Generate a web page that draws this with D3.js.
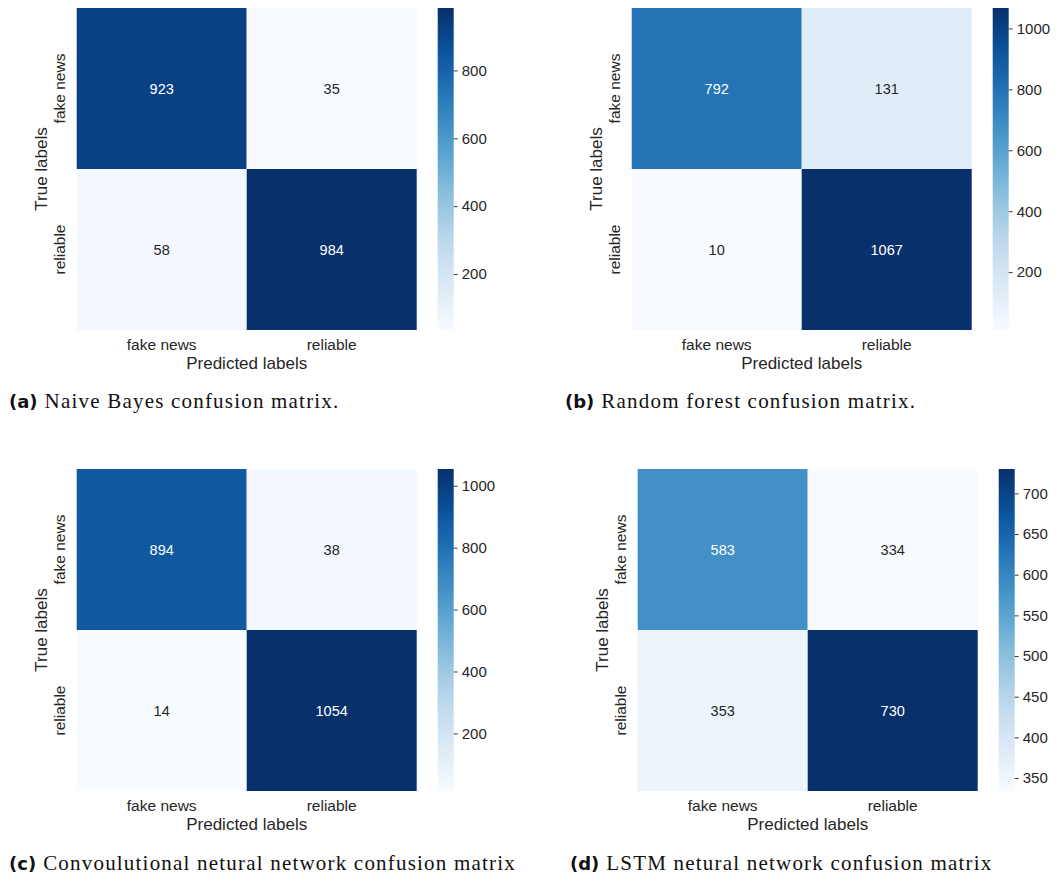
<!DOCTYPE html>
<html>
<head>
<meta charset="utf-8">
<script src="https://cdn.jsdelivr.net/npm/d3@7"></script>
<style>
  body { margin: 0; background: #fff; }
  svg { display: block; }
  .tick text { fill: #262626; }
</style>
</head>
<body>
<svg id="chart" width="1061" height="877"></svg>
<script>
const classes = ["fake news", "reliable"];

const nbValues = [[923, 35], [58, 984]];
const rfValues = [[792, 131], [10, 1067]];
const cnnValues = [[894, 38], [14, 1054]];
const lstmValues = [[583, 334], [353, 730]];

const nbTicks = [200, 400, 600, 800];
const rfTicks = [200, 400, 600, 800, 1000];
const cnnTicks = [200, 400, 600, 800, 1000];
const lstmTicks = [350, 400, 450, 500, 550, 600, 650, 700];

const captionTags = ["(a)", "(b)", "(c)", "(d)"];
const captionTexts = [
    "Naive Bayes confusion matrix.",
    "Random forest confusion matrix.",
    "Convoulutional netural network confusion matrix",
    "LSTM netural network confusion matrix"
];

const svg = d3.select("#chart");
const sans = "'Liberation Sans', Arial, sans-serif";
const textColor = "#262626";

const cellW = 170, cellH = 161;
const barGap = 21, barW = 16;

// layout of each panel (heatmap origin and caption origin)
const panels = [
    {values: nbValues, ticks: nbTicks, x: 76.7, y: 8, capX: 9, capY: 408},
    {values: rfValues, ticks: rfTicks, x: 631.7, y: 8, capX: 565, capY: 408},
    {values: cnnValues, ticks: cnnTicks, x: 76.7, y: 469, capX: 9, capY: 870},
    {values: lstmValues, ticks: lstmTicks, x: 637.7, y: 469, capX: 570, capY: 870}
];

panels.forEach((p, i) => {
    const g = svg.append("g").attr("transform", `translate(${p.x},${p.y})`);
    const flat = p.values.flat();
    const vmin = d3.min(flat), vmax = d3.max(flat);
    const color = d3.scaleSequential(d3.interpolateBlues).domain([vmin, vmax]);

    const x = d3.scaleBand().domain(classes).range([0, cellW * 2]);
    const y = d3.scaleBand().domain(classes).range([0, cellH * 2]);

    const cells = [];
    p.values.forEach((row, r) => row.forEach((v, c) => cells.push({r: classes[r], c: classes[c], v})));

    g.selectAll("rect.cell")
        .data(cells)
        .enter().append("rect")
        .attr("class", "cell")
        .attr("x", d => x(d.c))
        .attr("y", d => y(d.r))
        .attr("width", x.bandwidth())
        .attr("height", y.bandwidth())
        .attr("fill", d => color(d.v));

    g.selectAll("text.annot")
        .data(cells)
        .enter().append("text")
        .attr("class", "annot")
        .attr("x", d => x(d.c) + x.bandwidth() / 2)
        .attr("y", d => y(d.r) + y.bandwidth() / 2)
        .attr("dy", "0.35em")
        .attr("text-anchor", "middle")
        .attr("font-family", sans)
        .attr("font-size", 14.5)
        .attr("fill", d => (d.v - vmin) / (vmax - vmin) > 0.5 ? "#ffffff" : textColor)
        .text(d => d.v);

    // x tick labels
    g.selectAll("text.xlab")
        .data(classes)
        .enter().append("text")
        .attr("class", "xlab")
        .attr("x", d => x(d) + x.bandwidth() / 2)
        .attr("y", cellH * 2 + 20)
        .attr("text-anchor", "middle")
        .attr("font-family", sans)
        .attr("font-size", 15.5)
        .attr("fill", textColor)
        .text(d => d);

    // y tick labels
    g.selectAll("text.ylab")
        .data(classes)
        .enter().append("text")
        .attr("class", "ylab")
        .attr("transform", d => `translate(-12,${y(d) + y.bandwidth() / 2}) rotate(-90)`)
        .attr("text-anchor", "middle")
        .attr("font-family", sans)
        .attr("font-size", 15.5)
        .attr("fill", textColor)
        .text(d => d);

    g.append("text")
        .attr("x", cellW)
        .attr("y", cellH * 2 + 39)
        .attr("text-anchor", "middle")
        .attr("font-family", sans)
        .attr("font-size", 17)
        .attr("fill", textColor)
        .text("Predicted labels");

    g.append("text")
        .attr("transform", `translate(-30,${cellH}) rotate(-90)`)
        .attr("text-anchor", "middle")
        .attr("font-family", sans)
        .attr("font-size", 17)
        .attr("fill", textColor)
        .text("True labels");

    // colorbar
    const gradId = "grad" + i;
    const grad = svg.append("defs").append("linearGradient")
        .attr("id", gradId)
        .attr("x1", 0).attr("y1", 1).attr("x2", 0).attr("y2", 0);
    d3.range(0, 1.0001, 0.05).forEach(t => {
        grad.append("stop").attr("offset", t).attr("stop-color", d3.interpolateBlues(t));
    });

    const bx = cellW * 2 + barGap;
    const cb = g.append("g").attr("transform", `translate(${bx},0)`);
    cb.append("rect")
        .attr("width", barW)
        .attr("height", cellH * 2)
        .attr("fill", `url(#${gradId})`);

    const cbScale = d3.scaleLinear().domain([vmin, vmax]).range([cellH * 2, 0]);
    const axis = cb.append("g")
        .attr("transform", `translate(${barW},0)`)
        .call(d3.axisRight(cbScale).tickValues(p.ticks).tickFormat(d3.format("d")).tickSize(4).tickPadding(4));
    axis.select(".domain").remove();
    axis.selectAll(".tick line").attr("stroke", textColor).attr("stroke-width", 0.9);
    axis.selectAll(".tick text")
        .attr("font-family", sans)
        .attr("font-size", 15)
        .attr("fill", textColor);

    // caption
    const cap = svg.append("text")
        .attr("x", p.capX)
        .attr("y", p.capY)
        .attr("fill", "#111");
    cap.append("tspan")
        .attr("font-family", "'DejaVu Sans', sans-serif")
        .attr("font-weight", "bold")
        .attr("font-size", 18)
        .text(captionTags[i]);
    cap.append("tspan")
        .attr("dx", 7)
        .attr("font-family", "'Liberation Serif', 'Times New Roman', serif")
        .attr("font-size", 21)
        .attr("letter-spacing", 1.2)
        .text(captionTexts[i]);
});
</script>
</body>
</html>
